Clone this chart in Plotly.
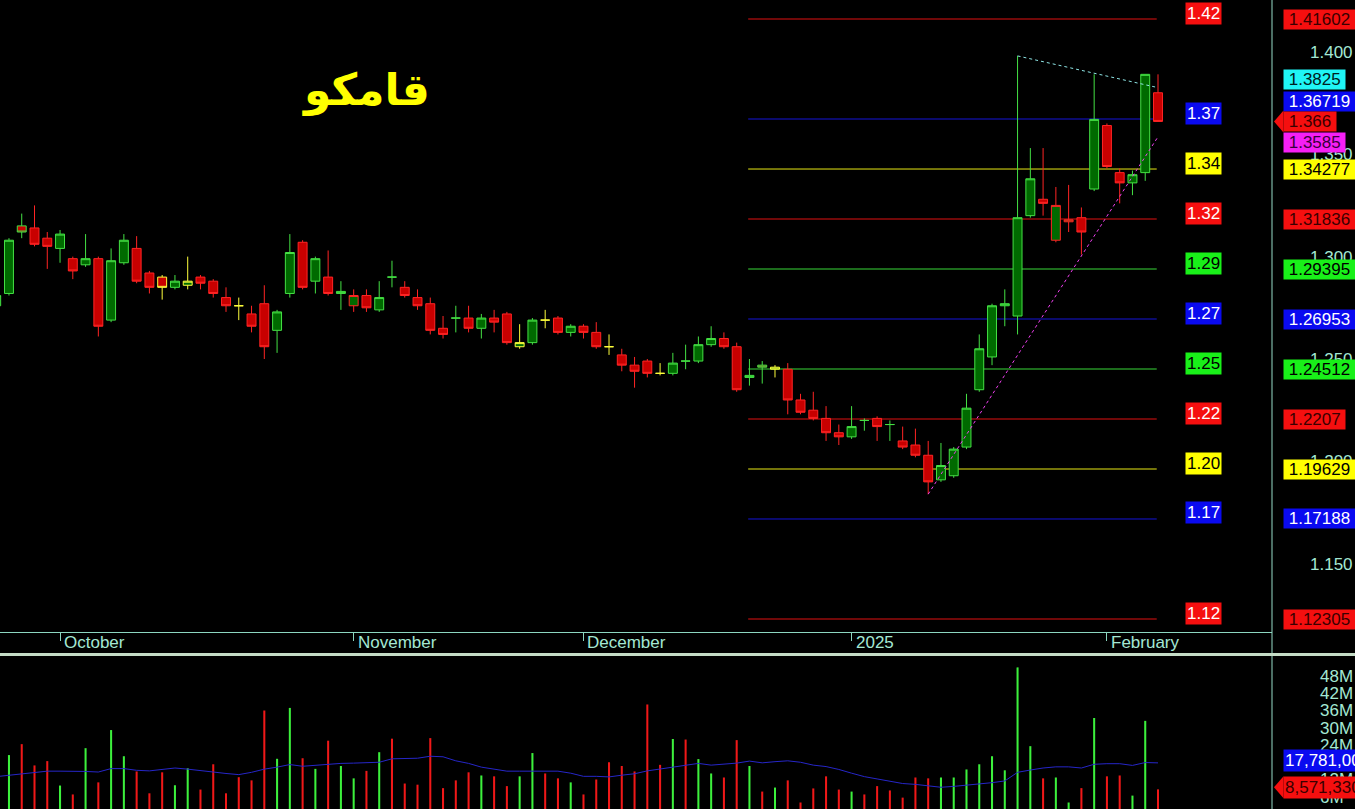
import plotly.graph_objects as go

# ---------------- daily candles (oldest first) ----------------
opens = [1.276, 1.282, 1.315, 1.314, 1.309, 1.304, 1.299, 1.296, 1.299, 1.269,
         1.297, 1.304, 1.292, 1.290, 1.285, 1.286, 1.290, 1.288, 1.280, 1.276,
         1.272, 1.277, 1.264, 1.282, 1.307, 1.288, 1.290, 1.282, 1.276, 1.281,
         1.274, 1.290, 1.285, 1.280, 1.277, 1.265, 1.270, 1.270, 1.265, 1.270,
         1.272, 1.256, 1.258, 1.269, 1.270, 1.263, 1.266, 1.263, 1.256, 1.252,
         1.247, 1.249, 1.243, 1.243, 1.249, 1.249, 1.257, 1.260, 1.256, 1.241,
         1.247, 1.245, 1.245, 1.230, 1.225, 1.221, 1.214, 1.212, 1.220, 1.221,
         1.218, 1.210, 1.208, 1.203, 1.191, 1.193, 1.207, 1.235, 1.251, 1.276,
         1.271, 1.320, 1.328, 1.308, 1.317, 1.319, 1.333, 1.364, 1.341, 1.336,
         1.341, 1.380]
highs = [1.284, 1.309, 1.321, 1.325, 1.312, 1.313, 1.300, 1.311, 1.300, 1.304,
         1.311, 1.310, 1.293, 1.291, 1.291, 1.300, 1.291, 1.289, 1.285, 1.280,
         1.276, 1.286, 1.274, 1.311, 1.308, 1.300, 1.303, 1.288, 1.284, 1.284,
         1.288, 1.298, 1.288, 1.284, 1.280, 1.271, 1.276, 1.276, 1.272, 1.274,
         1.273, 1.267, 1.270, 1.274, 1.271, 1.267, 1.267, 1.268, 1.262, 1.255,
         1.251, 1.250, 1.248, 1.253, 1.257, 1.261, 1.266, 1.263, 1.258, 1.250,
         1.249, 1.247, 1.248, 1.233, 1.234, 1.227, 1.218, 1.227, 1.221, 1.222,
         1.220, 1.217, 1.216, 1.210, 1.209, 1.207, 1.233, 1.262, 1.277, 1.284,
         1.398, 1.353, 1.353, 1.334, 1.335, 1.324, 1.389, 1.365, 1.343, 1.342,
         1.389, 1.389]
lows = [1.272, 1.281, 1.309, 1.305, 1.294, 1.297, 1.289, 1.295, 1.261, 1.268,
        1.296, 1.287, 1.282, 1.279, 1.284, 1.284, 1.284, 1.280, 1.273, 1.269,
        1.263, 1.250, 1.253, 1.280, 1.284, 1.282, 1.281, 1.274, 1.273, 1.273,
        1.273, 1.285, 1.280, 1.274, 1.262, 1.260, 1.263, 1.263, 1.260, 1.263,
        1.257, 1.255, 1.257, 1.265, 1.262, 1.261, 1.260, 1.255, 1.252, 1.244,
        1.236, 1.241, 1.242, 1.242, 1.245, 1.248, 1.256, 1.255, 1.234, 1.237,
        1.238, 1.241, 1.223, 1.223, 1.220, 1.210, 1.208, 1.211, 1.215, 1.210,
        1.210, 1.206, 1.202, 1.184, 1.190, 1.192, 1.206, 1.234, 1.247, 1.266,
        1.262, 1.319, 1.320, 1.307, 1.312, 1.301, 1.332, 1.343, 1.326, 1.330,
        1.337, 1.366]
closes = [1.281, 1.308, 1.312, 1.306, 1.305, 1.311, 1.293, 1.299, 1.266, 1.298,
          1.308, 1.288, 1.285, 1.285, 1.288, 1.288, 1.287, 1.282, 1.276, 1.276,
          1.266, 1.256, 1.273, 1.302, 1.285, 1.299, 1.282, 1.283, 1.281, 1.275,
          1.280, 1.290, 1.281, 1.276, 1.264, 1.262, 1.270, 1.265, 1.270, 1.268,
          1.258, 1.258, 1.269, 1.269, 1.263, 1.266, 1.263, 1.256, 1.256, 1.247,
          1.244, 1.243, 1.243, 1.248, 1.249, 1.257, 1.260, 1.256, 1.235, 1.242,
          1.246, 1.246, 1.230, 1.224, 1.221, 1.214, 1.212, 1.217, 1.220, 1.217,
          1.218, 1.207, 1.203, 1.190, 1.198, 1.206, 1.226, 1.255, 1.276, 1.277,
          1.319, 1.338, 1.326, 1.325, 1.318, 1.312, 1.367, 1.344, 1.336, 1.340,
          1.389, 1.366]
# traded volume, millions of shares
volume_m = [15.0, 20.5, 24.3, 16.9, 18.4, 9.9, 6.8, 22.9, 11.0, 29.2,
            20.1, 14.8, 7.2, 14.5, 10.0, 15.9, 8.5, 17.3, 7.2, 12.8,
            11.7, 36.0, 19.2, 36.9, 19.4, 15.7, 25.5, 16.7, 12.4, 15.0,
            21.5, 26.2, 10.6, 10.2, 26.4, 9.0, 11.7, 14.5, 13.4, 13.1,
            9.7, 13.1, 21.2, 14.1, 12.4, 11.0, 6.8, 12.0, 18.0, 16.7,
            14.8, 38.1, 17.1, 26.1, 25.9, 19.1, 14.1, 12.7, 25.7, 16.7,
            7.8, 9.2, 11.7, 4.0, 8.9, 13.1, 8.5, 7.8, 6.8, 9.7,
            8.2, 5.7, 12.7, 12.4, 12.7, 12.7, 15.5, 17.3, 20.1, 15.2,
            51.0, 23.6, 12.4, 12.7, 4.0, 9.0, 33.4, 13.1, 13.4, 6.4,
            32.4, 8.57133]
# volume moving average, millions
volume_ma_m = [13.0, 13.5, 14.0, 14.6, 14.9, 14.9, 14.9, 14.8, 14.6, 15.8,
               15.8, 15.2, 15.0, 15.5, 16.0, 15.6, 15.2, 14.6, 14.1, 13.7,
               14.5, 15.6, 16.3, 17.2, 16.6, 16.9, 17.4, 17.6, 17.7, 17.8,
               18.0, 19.2, 19.2, 19.4, 20.1, 19.9, 18.5, 17.6, 16.3, 15.6,
               14.9, 14.9, 14.9, 14.9, 14.9, 14.2, 13.1, 13.1, 12.9, 13.5,
               14.0, 15.0, 15.7, 16.3, 17.0, 17.6, 17.0, 17.4, 17.7, 18.4,
               17.8, 18.2, 18.5, 18.0, 17.0, 16.5, 15.5, 14.2, 13.0, 12.2,
               11.4, 10.6, 10.3, 9.8, 9.3, 9.6, 10.0, 10.5, 10.9, 11.5,
               14.5, 15.3, 16.0, 16.4, 16.4, 16.0, 17.3, 17.5, 17.5, 16.9,
               17.9, 17.781]

month_names = ["October", "November", "December", "2025", "February"]
month_start_idx = [5, 28, 46, 67, 87]

# retracement grid and its colour code
fib_levels = [1.41602, 1.36719, 1.34277, 1.31836, 1.29395, 1.26953,
              1.24512, 1.2207, 1.19629, 1.17188, 1.12305]
fib_kinds = ["red", "blue", "yellow", "red", "green", "blue",
             "green", "red", "yellow", "blue", "red"]

# trend lines: (bar index, price) at both ends
resist_idx = [80, 91]
resist_px = [1.398, 1.3825]
support_idx = [73, 91]
support_px = [1.184, 1.3585]

price_ticks = [1.15, 1.20, 1.25, 1.30, 1.35, 1.40]
volume_ticks = [6, 12, 18, 24, 30, 36, 42, 48]

# ---------------- styling ----------------
W, H = 1355, 809
PLOT_W = 1272
FONT = "Liberation Sans, Arial, sans-serif"
AXIS_TXT = "#a4e8d4"
NB = "\u00a0"
BOX_BG = {"red": "#f50f0f", "blue": "#0a0af0", "yellow": "#ffff00",
          "green": "#19f019", "cyan": "#1ff5f5", "magenta": "#f51ff5"}
LEFT_TXT = {"red": "#ffffff", "blue": "#ffffff", "yellow": "#000000", "green": "#000000"}
RIGHT_TXT = {"red": "#3a0000", "blue": "#ffffff", "yellow": "#000000",
             "green": "#000000", "cyan": "#002020", "magenta": "#3a003a"}
LINE_COL = {"red": "#e01010", "blue": "#1414d8", "yellow": "#e8e814", "green": "#38d838"}
OUTLINE = {"up": "#44e044", "down": "#ff2424", "flat": "#ffff3c"}
FILL = {"up": "#006a00", "down": "#c80000"}

n = len(closes)
idx = list(range(n))

fig = go.Figure()

# candles split by outline (close vs previous close) and body (close vs open)
groups = {}
for k in idx:
    prev = closes[k - 1] if k else opens[k]
    c = round(closes[k], 4)
    p = round(prev, 4)
    o_key = "up" if c > p else ("down" if c < p else "flat")
    if k == 0:
        o_key = "up" if closes[k] >= opens[k] else "down"
    f_key = "up" if closes[k] > opens[k] else "down"
    groups.setdefault((o_key, f_key), []).append(k)

for (o_key, f_key), ks in groups.items():
    style = dict(line=dict(color=OUTLINE[o_key], width=1), fillcolor=FILL[f_key])
    fig.add_trace(go.Candlestick(
        x=ks,
        open=[opens[k] for k in ks], high=[highs[k] for k in ks],
        low=[lows[k] for k in ks], close=[closes[k] for k in ks],
        increasing=style, decreasing=style, whiskerwidth=0,
        hoverinfo="skip", showlegend=False, xaxis="x", yaxis="y"))

# trend lines
fig.add_trace(go.Scatter(x=resist_idx, y=resist_px, mode="lines",
                         line=dict(color="#8ee6e6", width=1, dash="dot"),
                         hoverinfo="skip", showlegend=False))
fig.add_trace(go.Scatter(x=support_idx, y=support_px, mode="lines",
                         line=dict(color="#f040f0", width=1, dash="dot"),
                         hoverinfo="skip", showlegend=False))

# volume pane
vol_colors = ["#3cf03c" if closes[k] > opens[k] else "#f01818" for k in idx]
fig.add_trace(go.Bar(x=idx, y=volume_m, width=0.16, marker=dict(color=vol_colors, line=dict(width=0)),
                     xaxis="x2", yaxis="y2", hoverinfo="skip", showlegend=False))
fig.add_trace(go.Scatter(x=idx, y=volume_ma_m, mode="lines",
                         line=dict(color="#2626c8", width=1),
                         xaxis="x2", yaxis="y2", hoverinfo="skip", showlegend=False))

# pixel geometry of the panes
price_bottom_px = 632
vol_top_px = 656
x_view = [3.8 / 12.767, (PLOT_W + 3.8) / 12.767]
price_view = [1.1167, 1.4253]
vol_view = [1.74, 54.96]

shapes = []
ann = []

# retracement lines
fib_x0, fib_x1 = 58.9, 90.9
for lv, kind in zip(fib_levels, fib_kinds):
    shapes.append(dict(type="line", xref="x", yref="y", x0=fib_x0, x1=fib_x1, y0=lv, y1=lv,
                       line=dict(color=LINE_COL[kind], width=1), layer="below"))

# right axis border and pane separator
shapes.append(dict(type="line", xref="paper", yref="paper", x0=1, x1=1, y0=0, y1=1,
                   line=dict(color="#96dcc8", width=1), layer="above"))
sep_y = (H - 654.5) / H
shapes.append(dict(type="line", xref="paper", yref="paper", x0=0, x1=W / PLOT_W + 0.01,
                   y0=sep_y, y1=sep_y, line=dict(color="#c4dcc6", width=3), layer="above"))

# month labels
label_y = (H - 642) / H
for name, k in zip(month_names, month_start_idx):
    ann.append(dict(xref="x", yref="paper", x=k, y=label_y, text=name, showarrow=False,
                    xanchor="left", yanchor="middle", xshift=2,
                    font=dict(family=FONT, size=17, color=AXIS_TXT)))

# level tags next to the lines and on the axis
left_x = 1185 / PLOT_W
right_x = 1283 / PLOT_W
right_shift = {1.36719: 18}
for lv, kind in zip(fib_levels, fib_kinds):
    ann.append(dict(xref="paper", yref="y", x=left_x, y=lv, yshift=6, text=f"{lv:.2f}",
                    showarrow=False, xanchor="left", yanchor="middle",
                    bgcolor=BOX_BG[kind], borderpad=1,
                    font=dict(family=FONT, size=17, color=LEFT_TXT[kind])))
    ann.append(dict(xref="paper", yref="y", x=right_x, y=lv, yshift=right_shift.get(lv, 0),
                    text=NB + f"{lv:.5f}".rstrip("0") + NB, showarrow=False,
                    xanchor="left", yanchor="middle",
                    bgcolor=BOX_BG[kind], borderpad=0,
                    font=dict(family=FONT, size=17, color=RIGHT_TXT[kind])))

# trend line end values
ann.append(dict(xref="paper", yref="y", x=right_x, y=resist_px[-1], yshift=8,
                text=NB + f"{resist_px[-1]}" + NB, showarrow=False, xanchor="left", yanchor="middle",
                bgcolor=BOX_BG["cyan"], borderpad=0,
                font=dict(family=FONT, size=17, color=RIGHT_TXT["cyan"])))
ann.append(dict(xref="paper", yref="y", x=right_x, y=support_px[-1], yshift=-6,
                text=NB + f"{support_px[-1]}" + NB, showarrow=False, xanchor="left", yanchor="middle",
                bgcolor=BOX_BG["magenta"], borderpad=0,
                font=dict(family=FONT, size=17, color=RIGHT_TXT["magenta"])))

# last close with pointer
last = closes[-1]
ann.append(dict(xref="paper", yref="y", x=right_x, y=last, text=NB + f"{last:.3f}" + NB,
                showarrow=False, xanchor="left", yanchor="middle",
                bgcolor=BOX_BG["red"], borderpad=0,
                font=dict(family=FONT, size=17, color=RIGHT_TXT["red"])))
shapes.append(dict(type="path", xref="paper", yref="y", xsizemode="pixel", ysizemode="pixel",
                   xanchor=1, yanchor=last, path="M 2 0 L 11.5 11 L 11.5 -11 Z",
                   fillcolor=BOX_BG["red"], line=dict(width=0), layer="above"))

# volume pane tags
ma_last = volume_ma_m[-1] * 1e6
vol_last = volume_m[-1] * 1e6
ann.append(dict(xref="paper", yref="y2", x=right_x, y=volume_ma_m[-1], yshift=2,
                text=f"{ma_last:,.0f}", showarrow=False, xanchor="left", yanchor="middle",
                bgcolor=BOX_BG["blue"], borderpad=1,
                font=dict(family=FONT, size=17, color="#ffffff")))
ann.append(dict(xref="paper", yref="y2", x=right_x, y=volume_m[-1], yshift=2,
                text=f"{vol_last:,.0f}", showarrow=False, xanchor="left", yanchor="middle",
                bgcolor=BOX_BG["red"], borderpad=1,
                font=dict(family=FONT, size=17, color=RIGHT_TXT["red"])))
shapes.append(dict(type="path", xref="paper", yref="y2", xsizemode="pixel", ysizemode="pixel",
                   xanchor=1, yanchor=volume_m[-1], path="M 2 2 L 11.5 13 L 11.5 -9 Z",
                   fillcolor=BOX_BG["red"], line=dict(width=0), layer="above"))

# ticker name
ann.append(dict(xref="paper", yref="paper", x=366 / PLOT_W, y=(H - 90) / H, text="<b>قامكو</b>",
                showarrow=False, xanchor="center", yanchor="middle",
                font=dict(family="DejaVu Sans, sans-serif", size=44, color="#ffff00")))

fig.update_layout(
    width=W, height=H,
    margin=dict(l=0, r=W - PLOT_W, t=0, b=0),
    paper_bgcolor="#000000", plot_bgcolor="#000000",
    showlegend=False, boxmode="overlay", boxgap=0.3, boxgroupgap=0,
    xaxis=dict(domain=[0, 1], range=x_view, anchor="y", showgrid=False, zeroline=False,
               showline=True, linecolor="#8cd6c0", linewidth=1,
               ticks="outside", ticklen=8, tickcolor="#8cd6c0", tickwidth=1,
               tickvals=month_start_idx, showticklabels=False,
               rangeslider=dict(visible=False), fixedrange=True),
    yaxis=dict(domain=[(H - price_bottom_px) / H, 1], range=price_view, side="right",
               anchor="x", showgrid=False, zeroline=False, showline=False, ticks="",
               tickvals=price_ticks, ticktext=[f"{t:.3f}" for t in price_ticks],
               ticklabelstandoff=37,
               tickfont=dict(family=FONT, size=17, color=AXIS_TXT)),
    xaxis2=dict(domain=[0, 1], range=x_view, anchor="y2", matches="x", visible=False),
    yaxis2=dict(domain=[0, (H - vol_top_px) / H], range=vol_view, side="right", anchor="x2",
                showgrid=False, zeroline=False, showline=False, ticks="",
                tickvals=volume_ticks, ticktext=[f"{t}M" for t in volume_ticks],
                ticklabelstandoff=47,
                tickfont=dict(family=FONT, size=17, color=AXIS_TXT)),
    shapes=shapes,
    annotations=ann,
)

fig.write_html("out.html")
